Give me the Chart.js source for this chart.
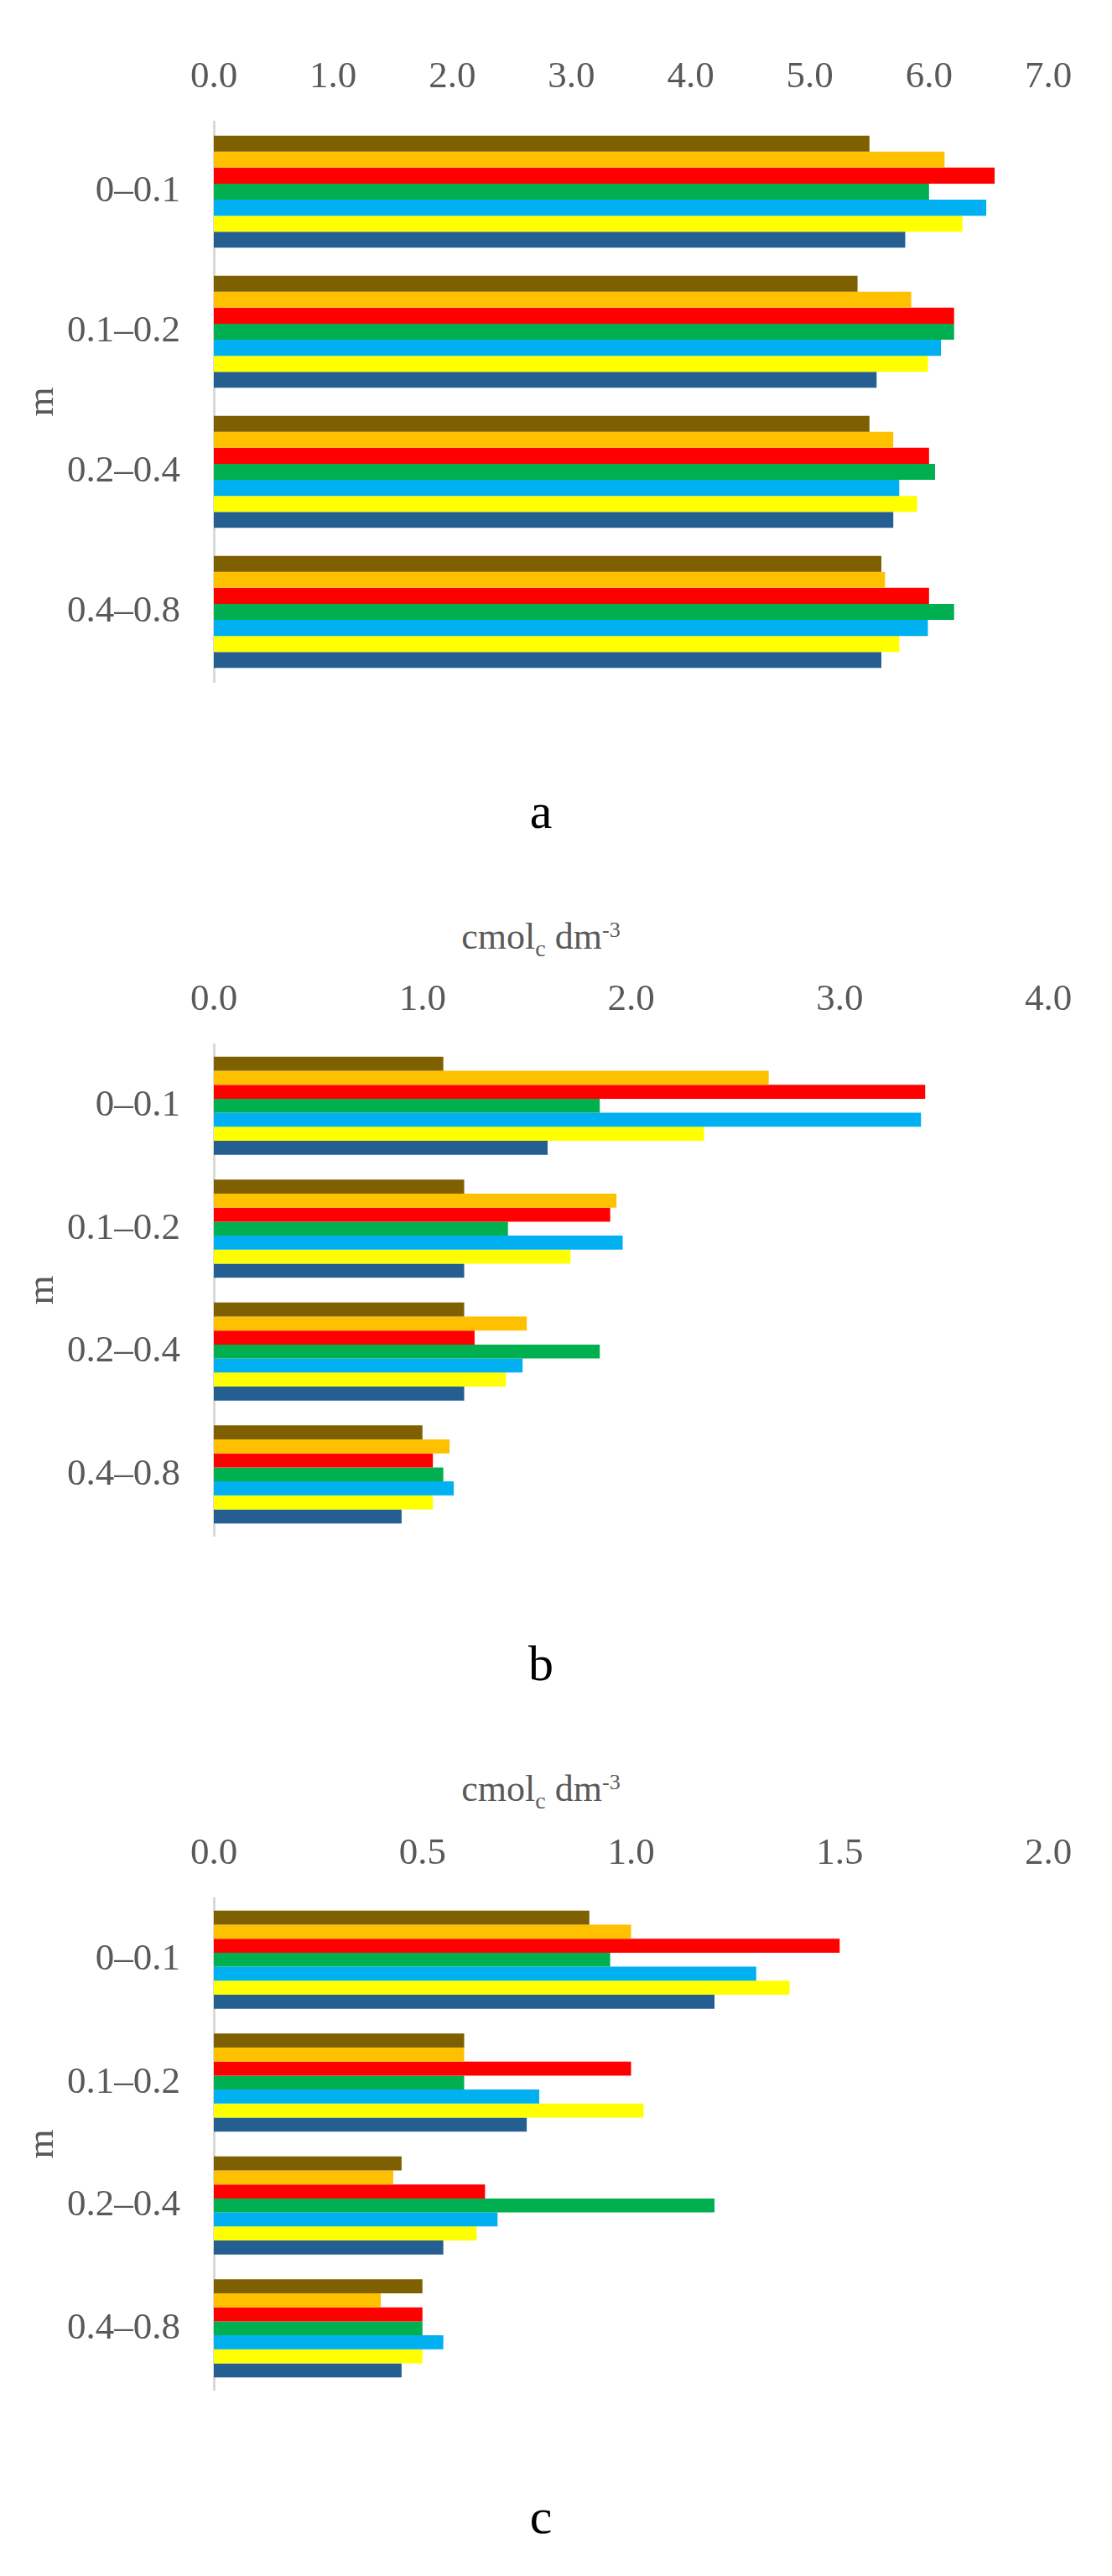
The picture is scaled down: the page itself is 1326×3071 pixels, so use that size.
<!DOCTYPE html>
<html lang="en">
<head>
    <meta charset="UTF-8">
    <title>Bar charts a, b, c</title>
    <script src="https://cdn.jsdelivr.net/npm/chart.js"></script>
    <style>
        body { margin: 0; background: #fff; }
        #page { position: relative; width: 1326px; height: 3071px; overflow: hidden; }
        canvas { position: absolute; left: 0; }
        .unit, .caption {
            position: absolute; left: 0; width: 1290px; text-align: center;
            font-family: 'Liberation Serif', 'Times New Roman', serif; white-space: nowrap;
        }
        .unit { font-size: 44px; line-height: 44px; color: #595959; }
        .unit sub { font-size: 28px; vertical-align: -9px; line-height: 0; }
        .unit sup { font-size: 26px; vertical-align: 14px; line-height: 0; }
        .caption { font-size: 60px; line-height: 60px; color: #000; }
    </style>
    <script>
        // depth classes (m)
        var categories = ['0\u20130.1', '0.1\u20130.2', '0.2\u20130.4', '0.4\u20130.8'];
        var seriesColors = ['#7F6000', '#FFC000', '#FF0000', '#00B050', '#00B0F0', '#FFFF00', '#255E91'];

        // chart a, one array per series (top bar to bottom bar in each group)
        var a1 = [5.50, 5.40, 5.50, 5.60];
        var a2 = [6.13, 5.85, 5.70, 5.63];
        var a3 = [6.55, 6.21, 6.00, 6.00];
        var a4 = [6.00, 6.21, 6.05, 6.21];
        var a5 = [6.48, 6.10, 5.75, 5.99];
        var a6 = [6.28, 5.99, 5.90, 5.75];
        var a7 = [5.80, 5.56, 5.70, 5.60];
        var aTicks = [0, 1, 2, 3, 4, 5, 6, 7];

        // chart b
        var b1 = [1.10, 1.20, 1.20, 1.00];
        var b2 = [2.66, 1.93, 1.50, 1.13];
        var b3 = [3.41, 1.90, 1.25, 1.05];
        var b4 = [1.85, 1.41, 1.85, 1.10];
        var b5 = [3.39, 1.96, 1.48, 1.15];
        var b6 = [2.35, 1.71, 1.40, 1.05];
        var b7 = [1.60, 1.20, 1.20, 0.90];
        var bTicks = [0, 1, 2, 3, 4];

        // chart c
        var c1 = [0.90, 0.60, 0.45, 0.50];
        var c2 = [1.00, 0.60, 0.43, 0.40];
        var c3 = [1.50, 1.00, 0.65, 0.50];
        var c4 = [0.95, 0.60, 1.20, 0.50];
        var c5 = [1.30, 0.78, 0.68, 0.55];
        var c6 = [1.38, 1.03, 0.63, 0.50];
        var c7 = [1.20, 0.75, 0.55, 0.45];
        var cTicks = [0, 0.5, 1, 1.5, 2];

        var fontFamily = "'Liberation Serif', 'Times New Roman', serif";

        function makeChart(id, series, ticks) {
            var step = ticks[1] - ticks[0];
            var ds = series.map(function (vals, i) {
                return {
                    data: vals,
                    backgroundColor: seriesColors[i],
                    borderWidth: 0,
                    categoryPercentage: 0.8,
                    barPercentage: 1.0
                };
            });
            new Chart(document.getElementById(id), {
                type: 'bar',
                data: { labels: categories, datasets: ds },
                options: {
                    indexAxis: 'y',
                    responsive: false,
                    animation: false,
                    events: [],
                    layout: { padding: { left: 0, top: 0, right: 76, bottom: 29 } },
                    plugins: { legend: { display: false }, tooltip: { enabled: false } },
                    scales: {
                        x: {
                            position: 'top',
                            min: ticks[0],
                            max: ticks[ticks.length - 1],
                            afterFit: function (s) { s.height = 145; },
                            afterBuildTicks: function (s) {
                                s.ticks = ticks.map(function (v) { return { value: v }; });
                            },
                            ticks: {
                                stepSize: step,
                                padding: 26,
                                color: '#595959',
                                font: { family: fontFamily, size: 45 },
                                maxRotation: 0,
                                callback: function (v) { return Number(v).toFixed(1); }
                            },
                            grid: { display: false, drawTicks: false },
                            border: { display: false }
                        },
                        y: {
                            afterFit: function (s) {
                                s.width = 255;
                                s.paddingTop = 0;
                                s.paddingBottom = 0;
                            },
                            ticks: {
                                padding: 40,
                                color: '#595959',
                                font: { family: fontFamily, size: 45 }
                            },
                            grid: { display: false, drawTicks: false },
                            border: { display: true, color: '#D9D9D9', width: 3 },
                            title: {
                                display: true,
                                text: 'm',
                                color: '#595959',
                                font: { family: fontFamily, size: 45 },
                                padding: { top: 24, bottom: 0 }
                            }
                        }
                    }
                }
            });
        }

        window.onload = function () {
            makeChart('chartA', [a1, a2, a3, a4, a5, a6, a7], aTicks);
            makeChart('chartB', [b1, b2, b3, b4, b5, b6, b7], bTicks);
            makeChart('chartC', [c1, c2, c3, c4, c5, c6, c7], cTicks);
        };
    </script>
</head>
<body>
    <div id="page">
        <canvas id="chartA" width="1326" height="842" style="top:0px;"></canvas>
        <div class="caption" style="top:937px;">a</div>

        <div class="unit" style="top:1095px;">cmol<sub>c</sub> dm<sup>-3</sup></div>
        <canvas id="chartB" width="1326" height="760" style="top:1100px;"></canvas>
        <div class="caption" style="top:1953px;">b</div>

        <div class="unit" style="top:2111px;">cmol<sub>c</sub> dm<sup>-3</sup></div>
        <canvas id="chartC" width="1326" height="760" style="top:2118px;"></canvas>
        <div class="caption" style="top:2970px;">c</div>
    </div>
</body>
</html>
